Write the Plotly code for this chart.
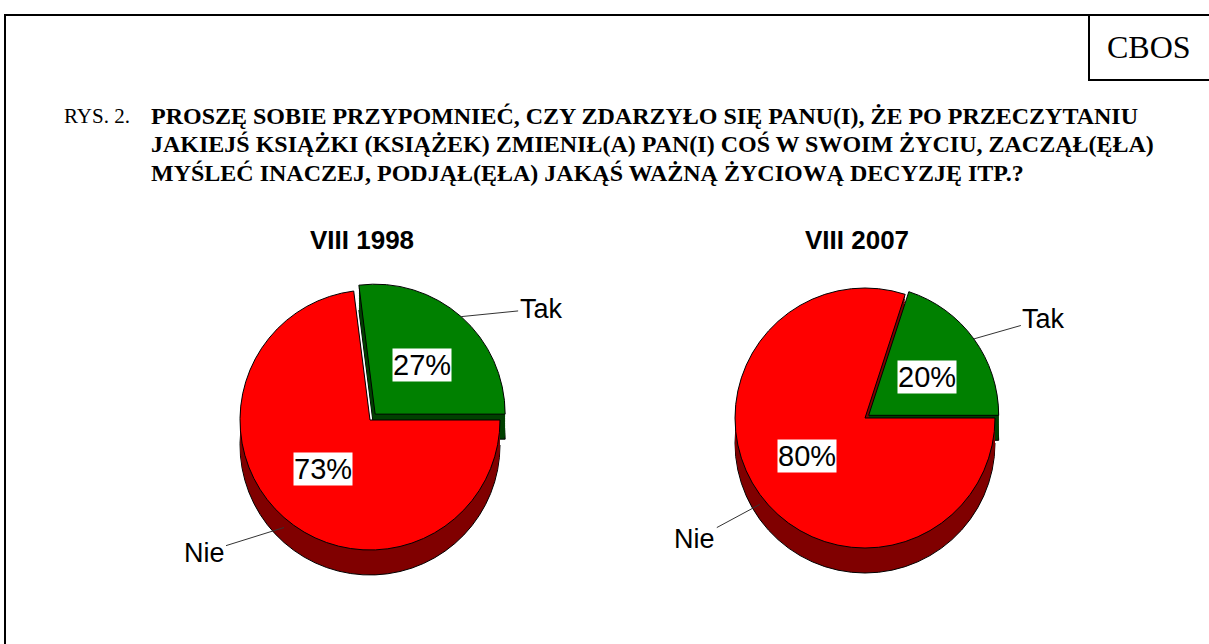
import math
import plotly.graph_objects as go

W, H = 1209, 644

# ---- data ----
categories = ["Tak", "Nie"]
years = ["VIII 1998", "VIII 2007"]
values_1998 = [27, 73]
values_2007 = [20, 80]
series = [values_1998, values_2007]
pulls = [[0.06, 0], [0.035, 0]]

title_prefix = "RYS. 2."
title_lines = [
    "PROSZĘ SOBIE PRZYPOMNIEĆ, CZY ZDARZYŁO SIĘ PANU(I), ŻE PO PRZECZYTANIU",
    "JAKIEJŚ KSIĄŻKI (KSIĄŻEK) ZMIENIŁ(A) PAN(I) COŚ W SWOIM ŻYCIU, ZACZĄŁ(ĘŁA)",
    "MYŚLEĆ INACZEJ, PODJĄŁ(ĘŁA) JAKĄŚ WAŻNĄ ŻYCIOWĄ DECYZJĘ ITP.?",
]
source = "CBOS"

# ---- layout geometry (pixels) ----
centers = [(370, 420), (865, 418)]
R = 130
DEPTH = 25
top_colors = ["#008000", "#FF0000"]
side_colors = ["#004000", "#800000"]
SANS = "Liberation Sans, Arial, sans-serif"
SERIF = "Liberation Serif, Times New Roman, serif"


def px(x, y):
    return x / W, 1 - y / H


def domain(cx, cy, r, pull):
    half = r * (1 + pull)
    return dict(x=[(cx - half) / W, (cx + half) / W],
                y=[1 - (cy + half) / H, 1 - (cy - half) / H])


fig = go.Figure()
annotations = []

label_offsets = [
    {"Tak": (80, -8), "Nie": (-80, 25)},
    {"Tak": (70, -20), "Nie": (-65, 35)},
]

for i, vals in enumerate(series):
    cx, cy = centers[i]
    maxpull = max(pulls[i])
    total = sum(vals)
    # first slice (Tak) ends at 3 o'clock, drawn clockwise
    rot = 90 - 360 * vals[0] / total
    n = 10
    for k in range(n, 0, -1):
        off = DEPTH * k / n
        fig.add_trace(go.Pie(
            labels=categories, values=vals, sort=False,
            direction="clockwise", rotation=rot,
            pull=pulls[i], textinfo="none", hoverinfo="skip",
            showlegend=False,
            marker=dict(colors=side_colors,
                        line=dict(color="black", width=1 if k == n else 0)),
            domain=domain(cx, cy + off, R, maxpull),
        ))
    fig.add_trace(go.Pie(
        labels=categories, values=vals, sort=False,
        direction="clockwise", rotation=rot,
        pull=pulls[i], textinfo="none", hoverinfo="skip",
        showlegend=False,
        marker=dict(colors=top_colors, line=dict(color="black", width=1)),
        domain=domain(cx, cy, R, maxpull),
    ))

    # pie title
    tx, ty = px(cx - 8, 240)
    annotations.append(dict(x=tx, y=ty, xref="paper", yref="paper",
                            xanchor="center", yanchor="middle",
                            text=f"<b>{years[i]}</b>", showarrow=False,
                            font=dict(family=SANS, size=26, color="black")))

    cum = 0
    for j, (lab, v) in enumerate(zip(categories, vals)):
        # math angle measured counterclockwise from 3 o'clock
        mid = 2 * math.pi * (cum + v / 2) / total
        cum += v
        p = pulls[i][j] * R
        ox, oy = cx + p * math.cos(mid), cy - p * math.sin(mid)
        # percent label
        lx, ly = px(ox + 0.55 * R * math.cos(mid), oy - 0.5 * R * math.sin(mid))
        annotations.append(dict(x=lx, y=ly, xref="paper", yref="paper",
                                xanchor="center", yanchor="middle",
                                text=f"{round(100 * v / total)}%", showarrow=False,
                                bgcolor="white", borderpad=0,
                                font=dict(family=SANS, size=29, color="black")))
        # category label with leader line
        extra = DEPTH * 0.4 if math.sin(mid) < 0 else 0
        ex, ey = px(ox + R * math.cos(mid), oy - R * math.sin(mid) + extra)
        axo, ayo = label_offsets[i][lab]
        annotations.append(dict(x=ex, y=ey, xref="paper", yref="paper",
                                xanchor="center", yanchor="middle",
                                text=lab, showarrow=True, arrowhead=0,
                                arrowwidth=1, arrowcolor="#333333",
                                ax=axo, ay=ayo,
                                font=dict(family=SANS, size=27, color="black")))

# title block
x0, y0 = px(62, 116)
annotations.append(dict(x=x0, y=y0, xref="paper", yref="paper", text=title_prefix,
                        showarrow=False, xanchor="left", yanchor="middle",
                        font=dict(family=SERIF, size=21, color="black")))
for k, line in enumerate(title_lines):
    lx, ly = px(149, 116 + 28.5 * k)
    annotations.append(dict(x=lx, y=ly, xref="paper", yref="paper",
                            text=f"<b>{line}</b>", showarrow=False,
                            xanchor="left", yanchor="middle",
                            font=dict(family=SERIF, size=24, color="black")))

cx_, cy_ = px(1149, 47)
annotations.append(dict(x=cx_, y=cy_, xref="paper", yref="paper", text=source,
                        showarrow=False, xanchor="center", yanchor="middle",
                        font=dict(family=SERIF, size=32, color="black")))

shapes = [
    dict(type="rect", xref="paper", yref="paper",
         x0=5 / W, x1=1.02, y0=-0.05, y1=1 - 15 / H,
         line=dict(color="black", width=2)),
    dict(type="rect", xref="paper", yref="paper",
         x0=1089 / W, x1=1.02, y0=1 - 80 / H, y1=1 - 15 / H,
         line=dict(color="black", width=2)),
]

fig.update_layout(
    width=W, height=H,
    margin=dict(l=0, r=0, t=0, b=0),
    paper_bgcolor="white", plot_bgcolor="white",
    annotations=annotations, shapes=shapes,
)

fig.write_html("out.html")
